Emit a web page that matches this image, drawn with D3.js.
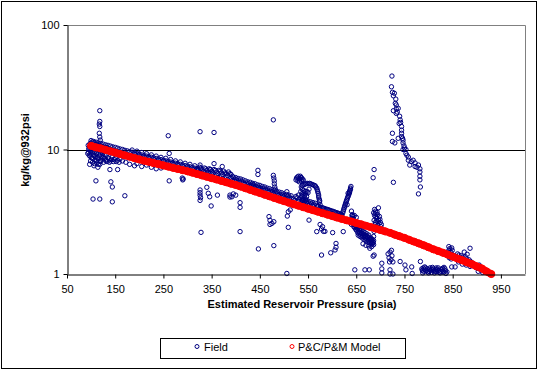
<!DOCTYPE html>
<html>
<head>
<meta charset="utf-8">
<script src="https://cdnjs.cloudflare.com/ajax/libs/d3/7.8.5/d3.min.js"></script>
<style>
  body { margin: 0; background: #fff; }
  text { font-family: Arial, "Liberation Sans", sans-serif; }
</style>
</head>
<body>
<svg id="chart" width="542" height="376"></svg>
<script>
// Chart values
const xTicks = [50, 150, 250, 350, 450, 550, 650, 750, 850, 950];
const yTicks = [1, 10, 100];

const modelPressure = [100, 110, 120, 130, 140, 150, 160, 170, 180, 190,
  200, 210, 220, 230, 240, 250, 260, 270, 280, 290,
  300, 310, 320, 330, 340, 350, 360, 370, 380, 390,
  400, 410, 420, 430, 440, 450, 460, 470, 480, 490,
  500, 510, 520, 530, 540, 550, 560, 570, 580, 590,
  600, 610, 620, 630, 640, 650, 660, 670, 680, 690,
  700, 710, 720, 730, 740, 750, 760, 770, 780, 790,
  800, 810, 820, 830, 840, 850, 860, 870, 880, 890,
  900, 910, 920, 930];
const modelValue = [10.7, 10.4, 10.2, 9.93, 9.68, 9.44, 9.20, 8.97, 8.75, 8.53,
  8.32, 8.13, 7.96, 7.78, 7.62, 7.45, 7.29, 7.13, 6.98, 6.82,
  6.68, 6.52, 6.35, 6.19, 6.04, 5.89, 5.74, 5.60, 5.46, 5.32,
  5.19, 5.04, 4.89, 4.74, 4.60, 4.47, 4.34, 4.21, 4.08, 3.96,
  3.85, 3.74, 3.64, 3.54, 3.44, 3.35, 3.26, 3.17, 3.08, 3.00,
  2.92, 2.84, 2.77, 2.70, 2.64, 2.57, 2.51, 2.44, 2.38, 2.32,
  2.26, 2.20, 2.14, 2.07, 2.01, 1.95, 1.88, 1.82, 1.76, 1.70,
  1.64, 1.58, 1.53, 1.48, 1.43, 1.38, 1.33, 1.29, 1.24, 1.20,
  1.15, 1.11, 1.05, 1.00];

// field data: [pressure, value]
const fieldData = [
  // low-pressure cluster
  [98,11.2],[102,11.5],[106,11.3],[110,11.0],[114,10.9],[118,10.8],[122,10.6],[126,10.5],[130,10.4],[135,10.2],
  [140,10.0],[145,9.9],[150,9.7],[155,9.6],[160,9.5],[165,9.3],[170,9.1],[175,9.0],[180,8.8],
  [95,9.5],[98,8.8],[100,9.2],[103,8.5],[105,9.0],[108,8.2],[110,8.7],[112,7.8],[115,8.4],[118,7.6],
  [120,8.1],[123,8.8],[126,7.9],[128,8.5],[132,8.2],[135,8.6],[138,7.9],[142,8.3],[146,8.0],[150,8.5],
  [155,8.2],[160,8.4],[165,8.1],[100,9.8],[104,10.1],[108,9.6],[112,9.9],[116,9.4],[120,9.7],[124,9.3],
  [128,9.6],[96,10.3],[94,10.8],[97,7.6],[106,7.4],[114,7.2],
  [96,9.0],[99,9.6],[101,8.6],[102,10.4],[104,9.4],[107,8.9],[109,10.2],[111,9.3],[113,8.6],[116,10.0],
  [117,8.9],[119,9.2],[121,8.4],[122,9.9],[125,8.6],[127,9.1],[129,8.2],[131,9.0],[133,8.0],[137,8.4],
  [140,8.1],[144,8.7],[148,8.3],[152,8.0],[158,7.9],[99,8.1],[103,7.9],[107,7.7],[111,8.1],[115,7.6],
  [119,8.0],[95,10.0],[97,10.6],[99,11.0],[101,10.8],[93,9.3],
  [100,11.8],[105,11.6],[110,11.45],[115,11.3],[120,11.2],[125,11.05],[130,10.9],[135,10.8],[140,10.65],[145,10.5],
  [150,10.4],[155,10.25],[160,10.1],[165,10.0],[170,9.85],[175,9.75],[180,9.6],
  [118,20.5],[118,16.8],[117,16.0],[118,15.3],[117,13.5],[118,12.6],[119,11.9],
  [110,5.6],[104,4.0],[118,4.0],[141,5.5],[144,5.0],[144,3.8],[170,4.25],[139,6.9],[155,6.9],
  // band 180-320
  [185,9.9],[195,9.7],[205,9.45],[215,9.25],[225,9.05],[235,8.85],[245,8.65],[255,8.5],[265,8.3],[275,8.1],
  [285,7.95],[295,7.75],[305,7.6],[315,7.4],
  [185,9.5],[190,9.38],[195,9.26],[200,9.15],[205,9.05],[210,8.94],[215,8.85],[220,8.76],[225,8.66],[230,8.56],
  [235,8.47],[240,8.38],[245,8.29],[250,8.2],[255,8.1],[260,8.02],[265,7.93],[270,7.84],[275,7.76],[280,7.68],
  [285,7.59],[290,7.5],[295,7.42],[300,7.35],[305,7.26],[310,7.17],[315,7.08],[320,6.99],
  [190,9.1],[200,8.9],[210,8.7],[220,8.5],[230,8.3],[240,8.15],[250,8.0],[260,7.8],[270,7.6],[280,7.45],
  [290,7.3],[300,7.1],[310,6.95],[320,6.8],
  [172,7.9],[180,7.6],[190,7.4],[195,7.7],[205,7.3],[215,7.5],[225,7.2],[235,7.0],[245,7.1],
  [289,5.9],[290,5.7],[291,5.8],
  [260,12.9],[262,9.3],[262,5.6],[326,13.9],[355,13.7],[326,7.5],[355,7.7],[372,7.3],[328,2.16],[349,3.52],
  [362,4.3],[326,4.73],[326,4.5],[326,4.3],[327,4.1],[326,3.9],[340,4.97],[347,6.9],[343,4.45],[346,4.17],
  [388,4.3],[388,4.15],[395,4.4],
  // band 320-395
  [320,7.0],[325,7.2],[330,6.9],[335,7.1],[340,6.8],[345,7.0],[350,6.7],[355,6.9],[360,6.6],[365,6.8],
  [370,6.5],[375,6.7],[380,6.4],[385,6.6],[390,6.3],[320,6.6],[330,6.5],[340,6.4],[350,6.3],[360,6.2],
  [370,6.1],[380,6.0],[390,5.9],
  [322,6.9],[328,7.1],[333,6.7],[338,7.0],[343,6.6],[348,6.9],[353,6.5],[358,6.8],[363,6.4],[368,6.7],
  [373,6.3],[378,6.5],[383,6.2],[388,6.4],[393,6.1],[323,6.3],[333,6.2],[343,6.1],[353,6.0],[363,5.95],
  [373,5.85],[383,5.75],[393,5.65],
  // band 395-520
  [395,6.0],[400,5.95],[405,5.85],[410,5.8],[415,5.7],[420,5.6],[425,5.5],[430,5.45],[435,5.35],[440,5.3],
  [445,5.2],[450,5.15],[455,5.05],[460,5.0],[465,4.9],[470,4.85],[475,4.75],[480,4.7],[485,4.6],[490,4.55],
  [495,4.5],[500,4.4],[505,4.35],[510,4.3],[515,4.25],
  [397,5.75],[402,5.7],[407,5.6],[412,5.5],[417,5.4],[422,5.35],[427,5.3],[432,5.2],[437,5.1],[442,5.05],
  [447,4.95],[452,4.9],[457,4.85],[462,4.75],[467,4.7],[472,4.6],[477,4.55],[482,4.5],[487,4.4],[492,4.35],
  [497,4.3],[502,4.25],[507,4.2],[512,4.1],[517,4.05],
  [398,5.55],[408,5.4],[418,5.25],[428,5.1],[438,4.95],[448,4.8],[458,4.7],[468,4.55],[478,4.4],[488,4.25],
  [498,4.15],[508,4.0],
  [446,6.8],[446,6.3],[478,6.2],[479,5.9],[480,5.6],[480,5.3],[481,5.0],[482,4.8],[436,5.2],[400,4.3],
  [409,3.43],[409,3.74],[409,2.19],[392,4.17],[432,5.1],[447,4.97],[447,1.59],[469,2.89],[471,2.7],[471,2.5],
  [475,2.55],[479,2.63],[479,1.69],[478,17.3],[506,4.58],[509,3.16],[507,2.92],[509,2.37],[506,1.01],[513,3.27],
  // 520-620
  [528,6.0],[531,5.8],[534,6.1],[537,5.9],[540,5.7],[532,5.5],[536,5.6],[525,5.7],
  [529,5.6],[533,5.8],[535,5.95],[538,5.75],[526,5.9],[530,6.1],
  [536,5.0],[540,5.2],[545,5.3],[550,5.3],[555,5.3],[560,5.2],[565,5.1],[568,4.9],[570,4.6],[572,4.3],
  [573,4.0],[574,3.8],[575,3.6],[538,4.8],[540,4.5],[542,4.3],[545,4.4],[548,4.6],[552,4.8],
  [537,4.2],[539,3.9],[543,4.1],[546,3.95],
  [538,5.15],[543,5.25],[548,5.35],[553,5.35],[558,5.25],[563,5.15],[566,5.0],[569,4.75],[571,4.45],[572,4.15],
  [574,3.9],[535,4.6],[537,4.4],[541,4.7],[544,4.6],[547,4.2],[550,4.5],[538,4.0],[542,3.8],
  [520,4.0],[525,4.2],[530,4.3],[535,4.1],[540,4.0],[545,3.9],[550,3.85],[555,3.8],[560,3.75],[565,3.7],
  [520,3.7],[530,3.8],[540,3.65],[550,3.55],[560,3.5],
  [522,3.9],[527,4.1],[532,4.0],[537,3.9],[542,3.85],[547,3.75],[552,3.7],[557,3.65],[562,3.6],
  [570,3.5],[575,3.45],[580,3.4],[585,3.35],[590,3.3],[595,3.25],[600,3.2],[605,3.15],[610,3.1],[615,3.05],
  [620,3.0],[575,3.2],[585,3.1],[595,3.0],[605,2.95],[615,2.9],
  [568,3.55],[572,3.5],[577,3.42],[582,3.38],[587,3.32],[592,3.28],[597,3.22],[602,3.18],[607,3.12],[612,3.08],
  [617,3.02],
  // 620-705
  [622,3.1],[624,3.3],[626,3.5],[628,3.7],[630,3.9],[632,4.1],[634,4.3],[636,4.5],[637,4.7],[638,4.9],
  [639,5.05],[633,4.45],[631,3.6],
  [623,3.2],[625,3.4],[627,3.6],[629,3.8],[631,4.0],[633,4.2],[635,4.4],[636,4.6],[638,4.8],[620,2.95],[618,3.0],
  [640,3.2],[641,2.95],[642,2.7],[640,2.5],
  [642,3.0],[646,2.95],[650,2.85],[643,2.9],[644,2.7],[645,2.5],[647,2.35],[650,2.25],[653,2.15],[656,2.1],
  [660,2.05],[664,2.0],[668,1.95],[672,1.9],[676,1.85],[680,1.8],[684,1.75],[648,2.5],[652,2.4],[656,2.3],
  [660,2.25],[664,2.2],[668,2.15],[672,2.1],[676,2.05],[680,1.95],[684,1.9],[686,2.0],[687,2.2],
  [641,2.8],[643,2.6],[645,2.4],[649,2.3],[651,2.35],[655,2.2],[658,2.15],[662,2.1],[666,2.05],[670,2.0],
  [674,1.95],[678,1.9],[682,1.85],[685,1.8],[658,2.0],[666,1.9],[674,1.8],[682,1.75],
  [644,2.8],[646,2.6],[648,2.45],[650,2.4],[653,2.3],[657,2.25],[661,2.15],[665,2.1],[669,2.05],[673,2.0],
  [677,1.95],[681,1.9],[683,1.8],[686,1.85],[654,2.05],[662,1.95],[670,1.85],[678,1.78],[686,1.72],
  [664,1.75],[670,1.7],[676,1.68],[682,1.66],
  [686,3.1],[688,2.95],[690,3.2],[692,2.8],[694,3.0],[696,2.7],[698,2.9],[700,2.6],[702,2.5],[690,2.6],
  [694,2.45],[698,2.3],[702,2.2],[688,3.3],[696,3.4],
  [687,2.7],[689,2.5],[691,2.9],[693,2.65],[695,2.35],[697,2.55],[699,2.75],[701,2.4],[689,3.05],[693,3.15],
  [578,1.42],[597,1.48],[608,1.76],[606,1.56],[608,1.64],[601,2.15],[623,2.19],[568,2.19],[580,2.4],[575,2.5],
  [578,2.3],[582,2.2],[585,2.2],[552,2.71],[647,1.08],[668,1.08],[677,1.08],[687,1.42],[685,1.39],[685,5.93],
  [687,6.9],[727,5.45],[678,1.61],
  // high spike
  [724,38.9],[723,31.9],[725,28.8],[729,28.3],[732,25.4],[733,22.8],[733,21.2],[733,19.5],[727,20.5],[737,21.4],
  [739,16.2],[741,17.3],[744,15.3],[744,14.3],[744,13.5],[744,12.7],[725,13.5],[725,11.6],[730,11.3],[737,12.3],
  [747,11.9],[747,11.3],[749,10.7],[747,10.0],[753,10.0],[753,9.3],[755,9.0],[758,8.7],[758,8.2],[761,7.5],
  [768,8.2],[772,7.8],[772,7.3],[779,7.5],[782,7.0],[782,6.6],[782,6.1],[782,5.7],[783,5.0],[779,4.4],
  [727,27.0],[731,23.5],[735,20.0],[740,18.5],[742,16.5],[746,12.3],[750,10.3],[764,8.0],[776,7.2],
  // high pressure, bottom
  [716,1.45],[718,1.35],[720,1.5],[722,1.3],[724,1.4],[726,1.25],[719,1.25],[723,1.55],[703,1.22],[703,1.1],
  [703,1.02],[720,1.08],[741,1.26],[753,1.08],[765,1.14],[766,1.01],[783,1.26],[720,1.0],[726,1.0],[751,1.18],
  [786,1.10],[790,1.05],[794,1.12],[798,1.04],[802,1.09],[806,1.03],[810,1.10],[814,1.05],[818,1.08],[822,1.03],
  [826,1.09],[830,1.05],[834,1.10],[838,1.04],[788,1.02],[800,1.02],[812,1.02],[824,1.02],[836,1.01],[792,1.14],
  [808,1.13],[820,1.12],[832,1.13],
  [787,1.07],[791,1.09],[795,1.06],[797,1.1],[801,1.05],[804,1.07],[807,1.09],[811,1.06],[815,1.09],[817,1.04],
  [821,1.07],[825,1.05],[828,1.08],[831,1.03],[835,1.06],[789,1.12],[803,1.12],[816,1.12],[829,1.11],
  [842,1.66],[840,1.45],[842,1.55],[844,1.4],[846,1.5],[848,1.62],[850,1.42],[843,1.35],[847,1.32],[848,1.14],
  [855,1.14],[841,1.5],[845,1.45],[849,1.55],[844,1.6],
  [860,1.45],[864,1.35],[868,1.4],[872,1.3],[876,1.38],[880,1.25],[884,1.3],[888,1.2],[892,1.22],[862,1.25],
  [870,1.2],[878,1.18],[886,1.15],[874,1.5],[866,1.3],[886,1.61],[880,1.44],[905,1.18],[898,1.15],
  [858,1.38],[863,1.42],[867,1.33],[871,1.36],[875,1.28],[879,1.32],[883,1.22],[887,1.26],[891,1.18],[895,1.15],
  [900,1.12],[905,1.1],[910,1.08],[915,1.06],[920,1.04],[925,1.02],[903,1.05],[912,1.03]
];

const colors = {
    field: '#000080',
    model: '#ff0000',
    frame: '#808080'
};

const plot = { left: 67, right: 525, top: 25, bottom: 274 };

const svg = d3.select("#chart");

svg.append("rect")
    .attr("x", 1.5).attr("y", 1.5)
    .attr("width", 535).attr("height", 367)
    .attr("fill", "#fff")
    .attr("stroke", "#000");

const x = d3.scaleLinear().domain([50, 1000]).range([plot.left, plot.right]);
const y = d3.scaleLog().domain([1, 100]).range([plot.bottom, plot.top]);

// plot area frame (top + right, grey)
svg.append("path")
    .attr("d", `M${plot.left},${plot.top + 0.5}H${plot.right + 0.5}V${plot.bottom}`)
    .attr("fill", "none")
    .attr("stroke", colors.frame);

// gridline at 10
svg.append("line")
    .attr("x1", plot.left).attr("x2", plot.right)
    .attr("y1", Math.round(y(10)) + 0.5).attr("y2", Math.round(y(10)) + 0.5)
    .attr("stroke", "#000");

// field points
svg.append("g")
    .selectAll("circle")
    .data(fieldData)
    .join("circle")
    .attr("cx", d => x(d[0]))
    .attr("cy", d => y(d[1]))
    .attr("r", 2.2)
    .attr("fill", "none")
    .attr("stroke", colors.field)
    .attr("stroke-width", 1);

// model: markers are so dense they merge into a thick band
const modelData = modelPressure.map((p, i) => [p, modelValue[i]]);

svg.append("path")
    .datum(modelData)
    .attr("d", d3.line().curve(d3.curveMonotoneX).x(d => x(d[0])).y(d => y(d[1])))
    .attr("fill", "none")
    .attr("stroke", colors.model)
    .attr("stroke-width", 7.4)
    .attr("stroke-linecap", "round");

svg.append("g")
    .selectAll("circle")
    .data(modelData)
    .join("circle")
    .attr("cx", d => x(d[0]))
    .attr("cy", d => y(d[1]))
    .attr("r", 3.6)
    .attr("fill", colors.model)
    .attr("stroke", colors.model)
    .attr("stroke-width", 0.8);

// axes
const xAxis = svg.append("g")
    .attr("transform", `translate(0,${plot.bottom + 0.5})`)
    .call(d3.axisBottom(x).tickValues(xTicks).tickSize(4).tickSizeOuter(0).tickPadding(7));

const yAxis = svg.append("g")
    .attr("transform", `translate(${plot.left + 0.5},0)`)
    .call(d3.axisLeft(y).tickValues(yTicks).tickFormat(d3.format("d")).tickSize(4).tickSizeOuter(0).tickPadding(4));

[xAxis, yAxis].forEach(g => {
    g.select(".domain").attr("stroke", "#000");
    g.selectAll(".tick line").attr("stroke", "#000");
    g.selectAll(".tick text")
        .attr("fill", "#000")
        .style("font-size", "11px")
        .style("font-family", "Arial, 'Liberation Sans', sans-serif");
});

// titles
svg.append("text")
    .attr("x", 302).attr("y", 308)
    .attr("text-anchor", "middle")
    .style("font-size", "11px")
    .style("font-weight", "bold")
    .text("Estimated Reservoir Pressure (psia)");

svg.append("text")
    .attr("transform", "translate(28.5,150) rotate(-90)")
    .attr("text-anchor", "middle")
    .style("font-size", "11px")
    .style("font-weight", "bold")
    .text("kg/kg@932psi");

// legend
const legend = svg.append("g");
legend.append("rect")
    .attr("x", 160.5).attr("y", 338.5)
    .attr("width", 245).attr("height", 20)
    .attr("fill", "#fff")
    .attr("stroke", "#000");

const legendItems = [
    { label: "Field", color: colors.field, cx: 197, tx: 204 },
    { label: "P&C/P&M Model", color: colors.model, cx: 292, tx: 298 }
];

legendItems.forEach(item => {
    legend.append("circle")
        .attr("cx", item.cx).attr("cy", 346.5)
        .attr("r", 2)
        .attr("fill", "none")
        .attr("stroke", item.color);
    legend.append("text")
        .attr("x", item.tx).attr("y", 350.5)
        .style("font-size", "11px")
        .text(item.label);
});
</script>
</body>
</html>
